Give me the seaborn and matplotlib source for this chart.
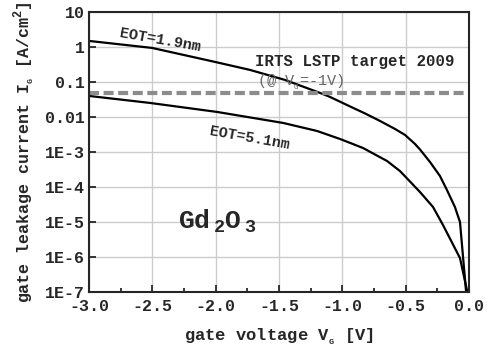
import matplotlib
matplotlib.use("Agg")
import matplotlib.pyplot as plt
import numpy as np
import pandas as pd
import seaborn as sns

# gate voltage [V] and leakage current [A/cm^2]
v_19 = [-3.0, -2.503, -2.005, -1.729, -1.453, -1.176, -1.097, -0.94, -0.821, -0.703,
        -0.584, -0.505, -0.426, -0.387, -0.308, -0.229, -0.174, -0.111, -0.071, -0.024, -0.018]
i_19 = [1.48, 0.935, 0.372, 0.220, 0.114, 0.0485, 0.0372, 0.020, 0.0126, 7.7e-3,
        4.54e-3, 3.06e-3, 1.69e-3, 1.18e-3, 5.18e-4, 2.06e-4, 8.2e-5, 2.69e-5, 1.0e-5, 1.14e-7, 1e-7]
v_51 = [-3.0, -2.518, -1.989, -1.468, -1.2, -1.018, -0.837, -0.647, -0.545, -0.387,
        -0.284, -0.205, -0.071, -0.016, -0.012]
i_51 = [0.0398, 0.0251, 0.0139, 6.75e-3, 3.98e-3, 2.35e-3, 1.30e-3, 5.53e-4, 2.86e-4, 7.2e-5,
        2.69e-5, 8.2e-6, 9.35e-7, 1.14e-7, 1e-7]
target = 0.047

yticks = [1e1, 1e0, 1e-1, 1e-2, 1e-3, 1e-4, 1e-5, 1e-6, 1e-7]
ylabels = ["10", "1", "0.1", "0.01", "1E-3", "1E-4", "1E-5", "1E-6", "1E-7"]
xticks = [-3.0, -2.5, -2.0, -1.5, -1.0, -0.5, 0.0]

df = pd.concat([
    pd.DataFrame({"V": v_19, "I": i_19, "EOT": "1.9nm"}),
    pd.DataFrame({"V": v_51, "I": i_51, "EOT": "5.1nm"}),
])

sns.set_style("ticks")
plt.rcParams["font.family"] = ["Liberation Mono", "DejaVu Sans Mono"]
plt.rcParams["font.weight"] = "bold"

fig = plt.figure(figsize=(4.87, 3.49), dpi=100)
ax = fig.add_axes([0.183, 0.163, 0.780, 0.803])

ax.set_yscale("log")
sns.lineplot(data=df, x="V", y="I", units="EOT", estimator=None, sort=False,
             color="black", linewidth=1.6, ax=ax)
ax.axhline(target, color="#8c8c8c", linewidth=3, linestyle=(0, (2.4, 1.1)))

ax.set_xlim(-3.0, 0.0)
ax.set_ylim(1e-7, 10)
ax.set_xticks(xticks)
ax.set_xticklabels([f"{t:.1f}" for t in xticks])
ax.set_xticks(np.arange(-2.75, 0, 0.5), minor=True)
ax.set_yticks(yticks)
ax.set_yticklabels(ylabels)
ax.grid(True, which="major", color="#cccccc", linewidth=1)
ax.tick_params(which="both", direction="in", labelsize=12, width=1.3)
ax.tick_params(which="major", length=5)
ax.tick_params(which="minor", length=3)
ax.tick_params(axis="x", pad=5)
ax.tick_params(axis="y", pad=3)
for lab in ax.get_xticklabels() + ax.get_yticklabels():
    lab.set_fontweight("bold")
for s in ax.spines.values():
    s.set_linewidth(1.5)

ax.set_xlabel(r"gate voltage V$_\mathregular{_G}$ [V]", fontsize=12.3, fontweight="bold", labelpad=9)
ax.set_ylabel(r"gate leakage current I$_\mathregular{_G}$ [A/cm$^\mathregular{2}$]",
              fontsize=12, fontweight="bold", labelpad=5)

ax.text(-2.44, 1.58, "EOT=1.9nm", fontsize=11, fontweight="bold", rotation=-10,
        ha="center", va="center")
ax.text(-1.73, 2.5e-3, "EOT=5.1nm", fontsize=10.8, fontweight="bold", rotation=-10,
        ha="center", va="center")
ax.text(-0.9, 0.385, "IRTS LSTP target 2009", fontsize=11.3, fontweight="bold",
        ha="center", va="center")
ax.text(-1.674, 0.1, r"(@ V$_\mathregular{_G}$=-1V)", fontsize=11, fontweight="normal",
        color="#666666", ha="left", va="center")
ax.text(-2.297, 6.7e-6, r"Gd$_\mathregular{\,2}$O$_\mathregular{\,3}$", fontsize=19,
        fontweight="bold", ha="left", va="baseline")

if ax.legend_:
    ax.legend_.remove()
fig.savefig("out.png", dpi=100)
